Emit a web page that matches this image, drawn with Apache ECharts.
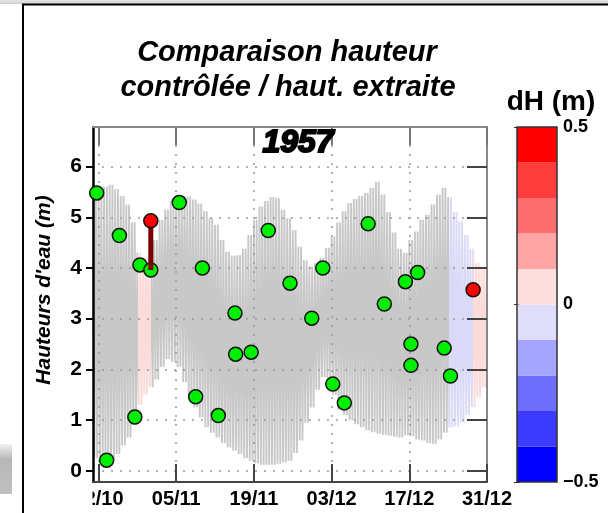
<!DOCTYPE html>
<html><head><meta charset="utf-8">
<script src="https://cdn.jsdelivr.net/npm/echarts@6/dist/echarts.min.js"></script>
<style>html,body{margin:0;padding:0;background:#fff}#c{width:608px;height:513px}</style>
</head><body><div id="c"></div>
<script>
// ---------------- data ----------------
const startDate = '1957-10-21 00:00';
const endDate = '1957-12-31 00:00';
const tickDates = ['1957-10-22', '1957-11-05', '1957-11-19', '1957-12-03', '1957-12-17', '1957-12-31'];
const tickLabels = ['22/10', '05/11', '19/11', '03/12', '17/12', '31/12'];
const yTicks = [0, 1, 2, 3, 4, 5, 6];

// daily high-water / low-water envelope of the extracted tide, 21/10 .. 31/12
const tideHigh = [5.50, 5.55, 5.60, 5.64, 5.55, 5.42, 5.25, 4.90, 4.30, 4.20,
  4.22, 4.55, 4.95, 5.15, 5.32, 5.38, 5.42, 5.41, 5.35, 5.27,
  5.12, 4.98, 4.85, 4.55, 4.32, 4.24, 4.25, 4.38, 4.65, 4.95,
  5.21, 5.32, 5.40, 5.38, 5.15, 4.98, 4.75, 4.42, 4.15, 4.03,
  4.10, 4.20, 4.40, 4.62, 4.90, 5.12, 5.28, 5.36, 5.42, 5.48,
  5.58, 5.70, 5.45, 5.10, 4.70, 4.38, 4.30, 4.55, 4.72, 4.95,
  5.05, 5.25, 5.45, 5.58, 5.40, 5.10, 4.92, 4.65, 4.38, 4.10,
  3.98, 3.87];
const tideLow = [0.25, 0.15, 0.12, 0.20, 0.33, 0.50, 0.66, 0.90, 1.30, 1.50,
  1.65, 1.80, 2.05, 2.20, 2.15, 2.05, 1.75, 1.45, 1.25, 1.05,
  0.86, 0.75, 0.66, 0.55, 0.46, 0.40, 0.33, 0.25, 0.20, 0.15,
  0.12, 0.12, 0.12, 0.14, 0.17, 0.20, 0.35, 0.60, 0.95, 1.25,
  1.60, 1.85, 1.80, 1.50, 1.20, 1.10, 1.00, 0.92, 0.86, 0.80,
  0.76, 0.73, 0.71, 0.69, 0.67, 0.66, 0.70, 0.68, 0.62, 0.60,
  0.55, 0.53, 0.62, 0.75, 0.86, 0.88, 0.95, 1.10, 1.26, 1.45,
  1.65, 1.85];

// periods where the extracted tide is coloured by dH
const pinkSpans = [['1957-10-29 02:00', '1957-10-31 10:00'], ['1957-12-28 10:00', '1957-12-31 00:00']];
const blueSpans = [['1957-12-24 05:00', '1957-12-28 10:00']];

// controlled heights (green) and flagged ones (red)
const greenDates = ['1957-10-21 16:00', '1957-10-23 11:00', '1957-10-25 18:00', '1957-10-28 13:00', '1957-10-29 11:00',
  '1957-10-31 10:00', '1957-11-05 13:00', '1957-11-08 12:00', '1957-11-09 17:00', '1957-11-12 14:00',
  '1957-11-15 14:00', '1957-11-15 17:00', '1957-11-18 12:00', '1957-11-21 14:00', '1957-11-25 12:00',
  '1957-11-29 10:00', '1957-12-01 10:00', '1957-12-03 05:00', '1957-12-05 07:00', '1957-12-09 14:00',
  '1957-12-12 12:00', '1957-12-16 07:00', '1957-12-17 07:00', '1957-12-17 07:00', '1957-12-18 12:00',
  '1957-12-23 07:00', '1957-12-24 10:00'];
const greenH = [5.48, 0.21, 4.64, 1.06, 4.06,
  3.96, 5.29, 1.46, 4.00, 1.09,
  3.11, 2.30, 2.34, 4.74, 3.70,
  3.01, 4.00, 1.71, 1.34, 4.87,
  3.29, 3.73, 2.50, 2.08, 3.91,
  2.42, 1.87];
const redDates = ['1957-10-31 10:00', '1957-12-28 12:00'];
const redH = [4.93, 3.57];
const barDates = ['1957-10-31 10:00'];
const barLow = [3.96];
const barHigh = [4.93];

// colour scale dH (m)
const dhLevels = [-0.5, -0.4, -0.3, -0.2, -0.1, 0, 0.1, 0.2, 0.3, 0.4, 0.5];
const dhColors = ['#0000ff', '#3c3cff', '#6e6eff', '#a5a5ff', '#dedefa',
  '#ffdede', '#ffa5a5', '#ff6e6e', '#ff3c3c', '#ff0000'];
const dhTickValues = [-0.5, 0, 0.5];
const dhTickLabels = ['\u22120.5', '0', '0.5'];

// ---------------- helpers ----------------
const T0 = Date.UTC(1957, 9, 21);
function dayOf(s) {
  const m = s.match(/(\d+)-(\d+)-(\d+)(?:[ T](\d+):(\d+))?/);
  return (Date.UTC(+m[1], +m[2] - 1, +m[3], +(m[4] || 0), +(m[5] || 0)) - T0) / 86400000;
}
const xMin = dayOf(startDate), xMax = dayOf(endDate);
const tickDays = tickDates.map(dayOf);
function tickLabel(v) {
  for (let i = 0; i < tickDays.length; i++) if (Math.abs(tickDays[i] - v) < 1e-6) return tickLabels[i];
  return '';
}

const tideData = [];
for (let d = 0; d < tideHigh.length; d++) {
  for (let k = 0; k < 4; k++) {
    const t = d + k * 0.25;
    if (t > xMax) break;
    tideData.push([t, k % 2 === 0 ? tideHigh[d] : tideLow[d]]);
  }
}
const GRAY = '#c8c8c8', PINK = '#fcdada', BLUE = '#dadaf8';
const spans = [];
pinkSpans.forEach(s => spans.push([dayOf(s[0]), dayOf(s[1]), PINK]));
blueSpans.forEach(s => spans.push([dayOf(s[0]), dayOf(s[1]), BLUE]));
spans.sort((a, b) => a[0] - b[0]);
const pieces = [];
let cur = -1e9;
spans.forEach(s => {
  if (s[0] > cur) pieces.push({ gte: cur, lt: s[0], color: GRAY });
  pieces.push({ gte: s[0], lt: s[1], color: s[2] });
  cur = s[1];
});
pieces.push({ gte: cur, lte: 1e9, color: GRAY });
pieces[pieces.length - 2].lte = pieces[pieces.length - 2].lt;

const FONT = '"Liberation Sans", Arial, sans-serif';
const dotted = { color: '#9a9a9a', width: 1.5, type: [2, 7] };

const chart = echarts.init(document.getElementById('c'), null, { renderer: 'canvas' });
chart.setOption({
  animation: false,
  backgroundColor: '#fff',
  textStyle: { fontFamily: FONT },
  grid: [
    { left: 93, top: 127, width: 394, height: 355 },
    { left: 517, top: 127, width: 40, height: 355, show: true, borderColor: '#333', borderWidth: 1.5, backgroundColor: 'transparent', z: 5 }
  ],
  xAxis: [
    { gridIndex: 0, type: 'value', min: xMin, max: xMax, position: 'bottom',
      axisLine: { show: true, onZero: false, lineStyle: { color: '#444', width: 2 } },
      axisTick: { show: true, inside: true, length: 18, customValues: tickDays, lineStyle: { color: '#444', width: 2 } },
      axisLabel: { customValues: tickDays, formatter: tickLabel, fontSize: 20, fontWeight: 'bold', color: '#000', margin: 7, fontFamily: FONT },
      splitLine: { show: true, lineStyle: dotted } },
    { gridIndex: 0, type: 'value', min: xMin, max: xMax, position: 'top',
      axisLine: { show: true, onZero: false, lineStyle: { color: '#888', width: 2 } },
      axisTick: { show: true, inside: true, length: 18, customValues: tickDays, lineStyle: { color: '#777', width: 2 } },
      axisLabel: { show: false }, splitLine: { show: false } },
    { gridIndex: 1, type: 'value', min: 0, max: 1, show: false }
  ],
  yAxis: [
    { gridIndex: 0, type: 'value', min: -0.22, max: 6.78, position: 'left',
      axisLine: { show: true, onZero: false, lineStyle: { color: '#000', width: 2.5 } },
      axisTick: { show: true, inside: false, length: 7, customValues: yTicks, lineStyle: { color: '#000', width: 2 } },
      axisLabel: { customValues: yTicks, fontSize: 21, fontWeight: 'bold', color: '#000', margin: 11, fontFamily: FONT },
      splitLine: { show: true, lineStyle: dotted } },
    { gridIndex: 0, type: 'value', min: -0.22, max: 6.78, position: 'right',
      axisLine: { show: true, onZero: false, lineStyle: { color: '#888', width: 2 } },
      axisTick: { show: true, inside: true, length: 20, customValues: yTicks, lineStyle: { color: '#444', width: 2 } },
      axisLabel: { show: false }, splitLine: { show: false } },
    { gridIndex: 1, type: 'value', min: -0.5, max: 0.5, interval: 0.5, position: 'right',
      axisLine: { show: false },
      axisTick: { show: true, inside: true, length: 3, lineStyle: { color: '#333', width: 1 } },
      axisLabel: { show: true, margin: 6, fontSize: 18, fontWeight: 'bold', color: '#000', fontFamily: FONT,
        showMinLabel: true, showMaxLabel: true,
        formatter: v => { const i = dhTickValues.findIndex(t => Math.abs(t - v) < 1e-9); return i < 0 ? '' : dhTickLabels[i]; } },
      splitLine: { show: false } },
    { gridIndex: 1, type: 'value', min: -0.5, max: 0.5, interval: 0.5, position: 'left',
      axisLine: { show: false },
      axisTick: { show: true, inside: true, length: 3, lineStyle: { color: '#333', width: 1 } },
      axisLabel: { show: false }, splitLine: { show: false } }
  ],
  visualMap: [{ type: 'piecewise', show: false, dimension: 0, seriesIndex: 0, pieces: pieces }],
  series: [
    { name: 'tide', type: 'line', xAxisIndex: 0, yAxisIndex: 0, data: tideData, showSymbol: false,
      lineStyle: { width: 1.9 }, z: -1, silent: true },
    { name: 'green', type: 'scatter', xAxisIndex: 0, yAxisIndex: 0, z: 3,
      data: greenDates.map((d, i) => [dayOf(d), greenH[i]]), symbolSize: 14,
      itemStyle: { color: '#00ee00', borderColor: '#111', borderWidth: 1.5, opacity: 1 } },
    { name: 'bar', type: 'line', xAxisIndex: 0, yAxisIndex: 0, z: 4, showSymbol: false,
      data: [[dayOf(barDates[0]), barLow[0]], [dayOf(barDates[0]), barHigh[0]]],
      lineStyle: { color: '#7b0000', width: 5 } },
    { name: 'red', type: 'scatter', xAxisIndex: 0, yAxisIndex: 0, z: 5,
      data: redDates.map((d, i) => [dayOf(d), redH[i]]), symbolSize: 14,
      itemStyle: { color: '#ff0000', borderColor: '#111', borderWidth: 1.5, opacity: 1 } },
    { name: 'colorbar', type: 'custom', xAxisIndex: 2, yAxisIndex: 2, silent: true,
      data: dhColors.map((c, i) => [0.5, dhLevels[i], dhLevels[i + 1], i]),
      encode: { x: 0, y: [1, 2] },
      renderItem: (params, api) => {
        const p0 = api.coord([0, api.value(1)]);
        const p1 = api.coord([1, api.value(2)]);
        return { type: 'rect', shape: { x: p0[0], y: p1[1], width: p1[0] - p0[0], height: p0[1] - p1[1] },
          style: { fill: dhColors[api.value(3)] } };
      } }
  ],
  graphic: [
    { type: 'rect', z: 100, shape: { x: 0, y: 0, width: 608, height: 4 },
      style: { fill: new echarts.graphic.LinearGradient(0, 0, 0, 1, [{ offset: 0, color: '#e6e6e6' }, { offset: 1, color: '#cfcfcf' }]) } },
    { type: 'rect', z: 100, shape: { x: 23, y: 4.5, width: 700, height: 700 },
      style: { fill: 'none', stroke: '#000', lineWidth: 2 } },
    { type: 'rect', z: 100, shape: { x: 0, y: 444, width: 12, height: 50 },
      style: { fill: new echarts.graphic.LinearGradient(0, 0, 0, 1, [{ offset: 0, color: '#f2f2f2' }, { offset: 0.3, color: '#b8b8b8' }, { offset: 1, color: '#c0c0c0' }]) } },
    { type: 'rect', z: 100, shape: { x: 50, y: 486, width: 42.5, height: 24 }, style: { fill: '#fff' } },
    { type: 'text', z: 100, x: 287, y: 53, style: { text: 'Comparaison hauteur', fill: '#000', align: 'center', verticalAlign: 'middle',
      fontSize: 29, fontWeight: 'bold', fontStyle: 'italic', fontFamily: FONT } },
    { type: 'text', z: 100, x: 288, y: 88, style: { text: 'contrôlée / haut. extraite', fill: '#000', align: 'center', verticalAlign: 'middle',
      fontSize: 29, fontWeight: 'bold', fontStyle: 'italic', fontFamily: FONT } },
    { type: 'text', z: 100, x: 298, y: 143, style: { text: '1957', fill: '#000', stroke: '#000', lineWidth: 2, align: 'center', verticalAlign: 'middle',
      fontSize: 32, fontWeight: 'bold', fontStyle: 'italic', fontFamily: FONT } },
    { type: 'text', z: 100, x: 551, y: 102, style: { text: 'dH (m)', fill: '#000', align: 'center', verticalAlign: 'middle',
      fontSize: 28, fontWeight: 'bold', fontFamily: FONT } },
    { type: 'text', z: 100, x: 44, y: 290, rotation: Math.PI / 2, style: { text: "Hauteurs d'eau (m)", fill: '#000', align: 'center', verticalAlign: 'middle',
      fontSize: 21, fontWeight: 'bold', fontStyle: 'italic', fontFamily: FONT } }
  ]
});
</script></body></html>
